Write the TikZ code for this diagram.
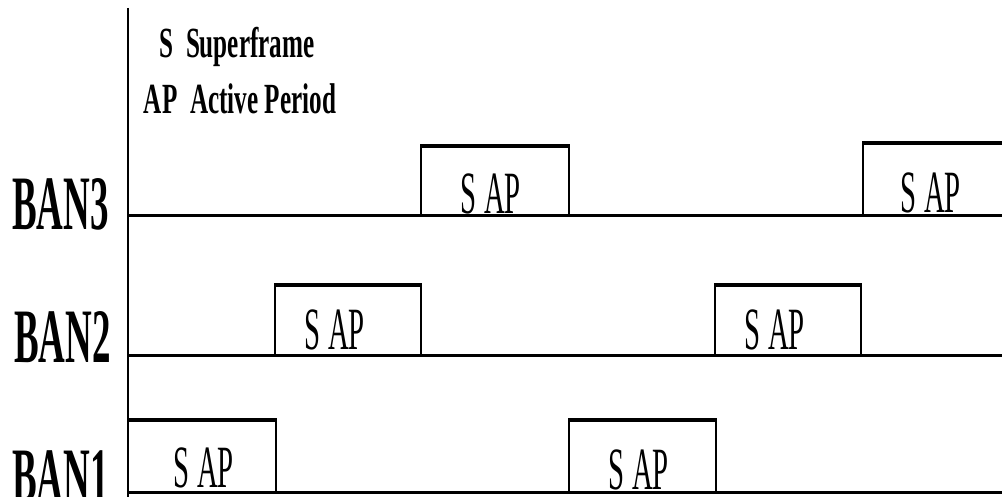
\documentclass[tikz,border=0pt]{standalone}
\usepackage{fontspec}
\setmainfont{Liberation Serif}
% text with no depth below its baseline
\newcommand\flatbox[1]{\raisebox{0pt}[\height][0pt]{#1}}
\begin{document}
\begin{tikzpicture}[x=1pt,y=-1pt,
  axisline/.style={line width=2pt},
  track/.style={line width=3pt},
  side/.style={line width=2pt},
  roof/.style={line width=3.2pt},
  slot/.style={inner sep=0pt, anchor=base, font=\fontsize{60}{60}\selectfont},
  ban/.style={inner sep=0pt, anchor=base east, font=\fontsize{77}{77}\selectfont\bfseries},
  legend/.style={inner sep=0pt, anchor=base, font=\fontsize{43}{43}\selectfont\bfseries}]
\useasboundingbox (0,0) rectangle (1002,497);

% time axis
\draw[axisline] (128,8) -- (128,497);

% one track per BAN
\foreach \y in {216,355,492}
  \draw[track] (128,\y) -- (1002,\y);

% active periods: (left, right, top, base)
\foreach \l/\r/\t/\b in {128/276/420/492, 569/716/420/492,
                         275/421/285/355, 715/861/285/355,
                         421/569/146/216, 863/1003/143/216}{
  \draw[side] (\l,\b) -- (\l,\t) (\r,\t) -- (\r,\b);
  \draw[roof] (\l-1,\t) -- (\r+1,\t);
}

% slot labels
\node[slot] (s1a) at (204,487) {\flatbox{\scalebox{0.48}[1]{S AP}}};
\node[slot] (s1b) at (639,489) {\flatbox{\scalebox{0.48}[1]{S AP}}};
\node[slot] (s2a) at (335,349) {\flatbox{\scalebox{0.48}[1]{S AP}}};
\node[slot] (s2b) at (775,349) {\flatbox{\scalebox{0.48}[1]{S AP}}};
\node[slot] (s3a) at (491,214) {\flatbox{\scalebox{0.48}[1]{S AP}}};
\node[slot] (s3b) at (931,213) {\flatbox{\scalebox{0.48}[1]{S AP}}};

% track names
\node[ban] (ban3) at (109,230) {\scalebox{0.48}[1]{BAN3}};
\node[ban] (ban2) at (111,362) {\scalebox{0.48}[1]{BAN2}};
\node[ban] (ban1) at (109,501) {\scalebox{0.48}[1]{BAN1}};

% legend
\node[legend] (legS)  at (237,58)  {\scalebox{0.585}[1]{S\ \ Superframe}};
\node[legend] (legAP) at (240,114) {\scalebox{0.585}[1]{AP\ \ Active Period}};
\end{tikzpicture}
\end{document}
